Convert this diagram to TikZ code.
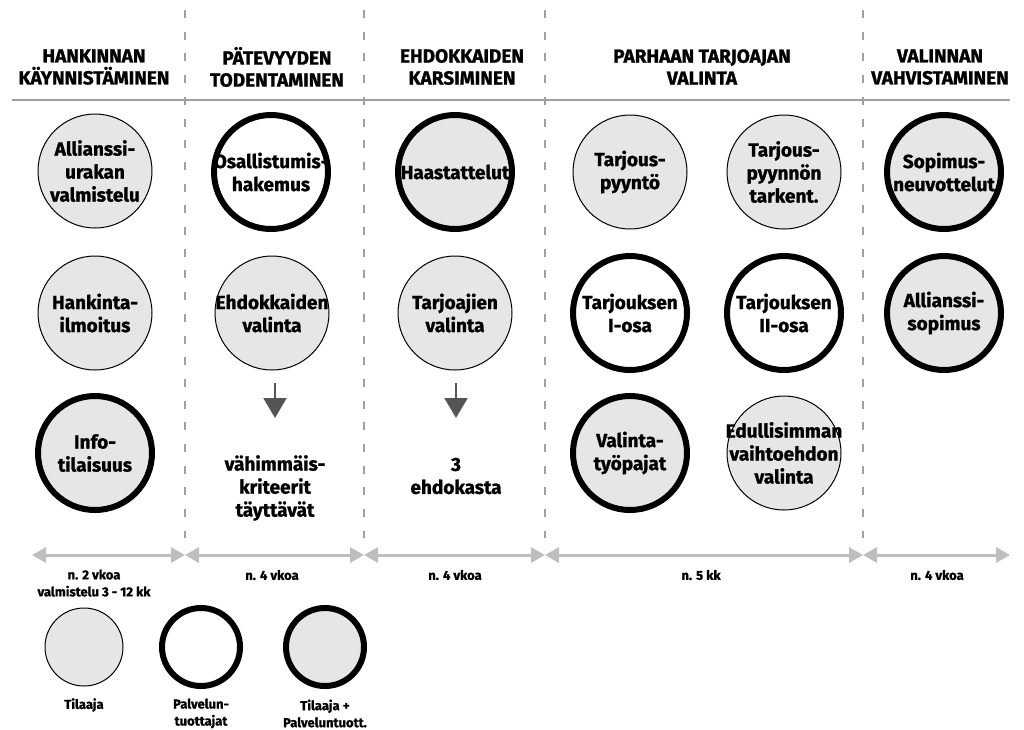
\documentclass[tikz,border=0pt]{standalone}
\usepackage{fontspec}
\setmainfont{Fira Sans}[BoldFeatures={FakeBold=1.2}]
\usetikzlibrary{arrows.meta}

\definecolor{bubfill}{HTML}{E6E6E6}
\definecolor{sepgray}{HTML}{A0A0A0}
\definecolor{rulegray}{HTML}{9E9E9E}
\definecolor{spangray}{HTML}{BEBEBE}
\definecolor{arrgray}{HTML}{555555}

\tikzset{
  bub/.style={circle, minimum size=114pt, inner sep=0pt, draw=black},
  tilaaja/.style={bub, fill=bubfill, line width=1pt},
  tuottaja/.style={bub, fill=white, line width=6pt},
  yhteinen/.style={bub, fill=bubfill, line width=6pt},
  legend/.style={minimum size=78pt},
  txt/.style={font=\bfseries\fontsize{19}{23}\selectfont, align=center, inner sep=0pt},
  head/.style={font=\bfseries\fontsize{19}{22}\selectfont, align=center, inner sep=0pt},
  small/.style={font=\bfseries\fontsize{13}{17}\selectfont, align=center, inner sep=0pt},
  sep/.style={draw=sepgray, line width=1.5pt, dash pattern=on 8pt off 13.7pt},
  span/.style={draw=spangray, line width=3pt, {Triangle[width=15pt,length=14pt]}-{Triangle[width=15pt,length=14pt]}},
  down/.style={draw=arrgray, line width=2pt, -{Triangle[width=23pt,length=20pt]}}
}

\begin{document}
\begin{tikzpicture}[x=1pt, y=-1pt]
\useasboundingbox (0,0) rectangle (1024,729);

% column separators
\foreach \c/\xx in {s1/185, s2/364, s3/545, s4/863}{
  \coordinate (\c-top) at (\xx,10);
  \coordinate (\c-bot) at (\xx,538);
  \draw[sep] (\c-top) -- (\c-bot);
}

% phase headings
\node[head] (h1) at (94,67) {HANKINNAN\\KÄYNNISTÄMINEN};
\node[head] (h2) at (277,67) {PÄTEVYYDEN\\TODENTAMINEN};
\node[head] (h3) at (462,67) {EHDOKKAIDEN\\KARSIMINEN};
\node[head] (h4) at (702,67) {PARHAAN TARJOAJAN\\VALINTA};
\node[head] (h5) at (940,67) {VALINNAN\\VAHVISTAMINEN};

\coordinate (r-l) at (12,100);
\coordinate (r-r) at (1010,100);
\draw[draw=rulegray, line width=2pt] (r-l) -- (r-r);

% phase 1
\node[tilaaja] (c11) at (95,171) {};
\node[txt] (t11) at (c11) {Allianssi-\\urakan\\valmistelu};
\node[tilaaja] (c12) at (95,313) {};
\node[txt] (t12) at (c12) {Hankinta-\\ilmoitus};
\node[yhteinen] (c13) at (95,453) {};
\node[txt] (t13) at (c13) {Info-\\tilaisuus};

% phase 2
\node[tuottaja] (c21) at (271,172) {};
\node[txt] (t21) at (c21) {Osallistumis-\\hakemus};
\node[tilaaja] (c22) at (272,313) {};
\node[txt] (t22) at (c22) {Ehdokkaiden\\valinta};
\coordinate (a2s) at (275,383);
\coordinate (a2e) at (275,418);
\draw[down] (a2s) -- (a2e);
\node[txt] (t23) at (275,488) {vähimmäis-\\kriteerit\\täyttävät};

% phase 3
\node[yhteinen] (c31) at (455,172) {};
\node[txt] (t31) at (c31) {Haastattelut};
\node[tilaaja] (c32) at (455,313) {};
\node[txt] (t32) at (c32) {Tarjoajien\\valinta};
\coordinate (a3s) at (456,383);
\coordinate (a3e) at (456,418);
\draw[down] (a3s) -- (a3e);
\node[txt] (t33) at (456,476) {3\\ehdokasta};

% phase 4
\node[tilaaja] (c41) at (630,172) {};
\node[txt] (t41) at (c41) {Tarjous-\\pyyntö};
\node[tilaaja] (c42) at (784,172) {};
\node[txt] (t42) at (c42) {Tarjous-\\pyynnön\\tarkent.};
\node[tuottaja] (c43) at (630,313) {};
\node[txt] (t43) at (c43) {Tarjouksen\\I-osa};
\node[tuottaja] (c44) at (784,313) {};
\node[txt] (t44) at (c44) {Tarjouksen\\II-osa};
\node[yhteinen] (c45) at (630,453) {};
\node[txt] (t45) at (c45) {Valinta-\\työpajat};
\node[tilaaja] (c46) at (784,453) {};
\node[txt] (t46) at (c46) {Edullisimman\\vaihtoehdon\\valinta};

% phase 5
\node[yhteinen] (c51) at (944,172) {};
\node[txt] (t51) at (c51) {Sopimus-\\neuvottelut};
\node[yhteinen] (c52) at (944,313) {};
\node[txt] (t52) at (c52) {Allianssi-\\sopimus};

% durations
\coordinate (p0) at (32,555);
\coordinate (p1) at (185,555);
\coordinate (p2) at (364,555);
\coordinate (p3) at (545,555);
\coordinate (p4) at (863,555);
\coordinate (p5) at (1010,555);
\draw[span] (p0) -- (p1);
\draw[span] (p1) -- (p2);
\draw[span] (p2) -- (p3);
\draw[span] (p3) -- (p4);
\draw[span] (p4) -- (p5);

\node[small] (d1) at (94,583) {n. 2 vkoa\\valmistelu 3 - 12 kk};
\node[small] (d2) at (272,575) {n. 4 vkoa};
\node[small] (d3) at (455,575) {n. 4 vkoa};
\node[small] (d4) at (701,575) {n. 5 kk};
\node[small] (d5) at (937,575) {n. 4 vkoa};

% legend
\node[tilaaja, legend] (l1) at (84,647) {};
\node[small] (lt1) at (84,705) {Tilaaja};
\node[tuottaja, legend] (l2) at (201,647) {};
\node[small] (lt2) at (201,713.5) {Palvelun-\\tuottajat};
\node[yhteinen, legend] (l3) at (325,647) {};
\node[small] (lt3) at (325,713.5) {Tilaaja +\\Palveluntuott.};
\end{tikzpicture}
\end{document}
